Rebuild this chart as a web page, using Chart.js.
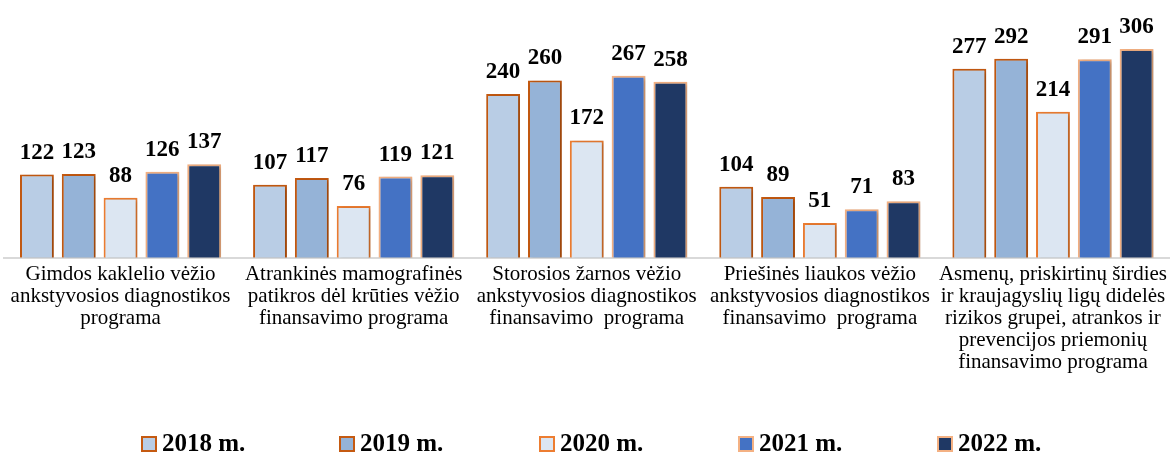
<!DOCTYPE html>
<html>
<head>
<meta charset="utf-8">
<script src="https://cdn.jsdelivr.net/npm/chart.js@4.4.1/dist/chart.umd.min.js"></script>
<style>
html,body{margin:0;padding:0;background:#fff;}
#wrap{width:1173px;height:455px;position:relative;}
</style>
</head>
<body>
<div id="wrap"><canvas id="c" width="1173" height="455"></canvas></div>
<script>
const categories = [
  ["Gimdos kaklelio vėžio", "ankstyvosios diagnostikos", "programa"],
  ["Atrankinės mamografinės", "patikros dėl krūties vėžio", "finansavimo programa"],
  ["Storosios žarnos vėžio", "ankstyvosios diagnostikos", "finansavimo  programa"],
  ["Priešinės liaukos vėžio", "ankstyvosios diagnostikos", "finansavimo  programa"],
  ["Asmenų, priskirtinų širdies", "ir kraujagyslių ligų didelės", "rizikos grupei, atrankos ir", "prevencijos priemonių", "finansavimo programa"]
];
const seriesNames = ["2018 m.", "2019 m.", "2020 m.", "2021 m.", "2022 m."];
const v2018 = [122, 107, 240, 104, 277];
const v2019 = [123, 117, 260, 89, 292];
const v2020 = [88, 76, 172, 51, 214];
const v2021 = [126, 119, 267, 71, 291];
const v2022 = [137, 121, 258, 83, 306];

const fills = ["#B9CDE5", "#95B3D7", "#DCE6F2", "#4472C4", "#1F3864"];
const borders = ["#C55A11", "#C55A11", "#ED7D31", "#F4B183", "#F4B183"];
const allValues = [v2018, v2019, v2020, v2021, v2022];

const SERIF = "'Liberation Serif', 'Times New Roman', serif";

const datasets = allValues.map((vals, i) => ({
  label: seriesNames[i],
  data: vals,
  backgroundColor: fills[i],
  borderColor: borders[i],
  borderWidth: 2,
  borderSkipped: 'bottom',
  categoryPercentage: 0.897,
  barPercentage: 0.81
}));

const labelPlugin = {
  id: 'valueLabels',
  beforeDatasetsDraw(chart) {
    const ctx = chart.ctx;
    ctx.save();
    ctx.shadowColor = 'rgba(0,0,0,0.25)';
    ctx.shadowBlur = 4;
    ctx.shadowOffsetX = 2;
    ctx.shadowOffsetY = 1;
  },
  afterDatasetsDraw(chart) {
    const ctx = chart.ctx;
    ctx.restore();
    ctx.save();
    ctx.font = "bold 23px " + SERIF;
    ctx.fillStyle = '#000';
    ctx.textAlign = 'center';
    ctx.textBaseline = 'alphabetic';
    chart.data.datasets.forEach((ds, di) => {
      const meta = chart.getDatasetMeta(di);
      meta.data.forEach((bar, i) => {
        ctx.fillText(String(ds.data[i]), bar.x, bar.y - 16);
      });
    });
    ctx.restore();
  },
  afterDraw(chart) {
    const ctx = chart.ctx;
    ctx.save();
    const y = 444;
    const starts = [142, 340, 540, 739, 938];
    ctx.font = "bold 25px " + SERIF;
    ctx.textBaseline = 'middle';
    ctx.textAlign = 'left';
    chart.data.datasets.forEach((ds, i) => {
      const x = starts[i];
      ctx.fillStyle = fills[i];
      ctx.fillRect(x, y - 7, 14, 14);
      ctx.strokeStyle = borders[i];
      ctx.lineWidth = 2;
      ctx.strokeRect(x, y - 7, 14, 14);
      ctx.fillStyle = '#000';
      ctx.fillText(ds.label, x + 20, y + 1);
    });
    ctx.restore();
  }
};

new Chart(document.getElementById('c'), {
  type: 'bar',
  data: { labels: categories, datasets },
  options: {
    responsive: false,
    animation: false,
    layout: { autoPadding: false, padding: { left: 4, right: 0, top: 0, bottom: 75 } },
    plugins: { legend: { display: false }, tooltip: { enabled: false } },
    scales: {
      x: {
        grid: { display: false, drawTicks: false },
        border: { display: true, color: '#D9D9D9', width: 2 },
        ticks: {
          color: '#000',
          font: { family: SERIF, size: 21, lineHeight: 1.05 },
          padding: 6,
          maxRotation: 0,
          autoSkip: false
        }
      },
      y: {
        display: false,
        min: 0,
        max: 378
      }
    }
  },
  plugins: [labelPlugin]
});
</script>
</body>
</html>
